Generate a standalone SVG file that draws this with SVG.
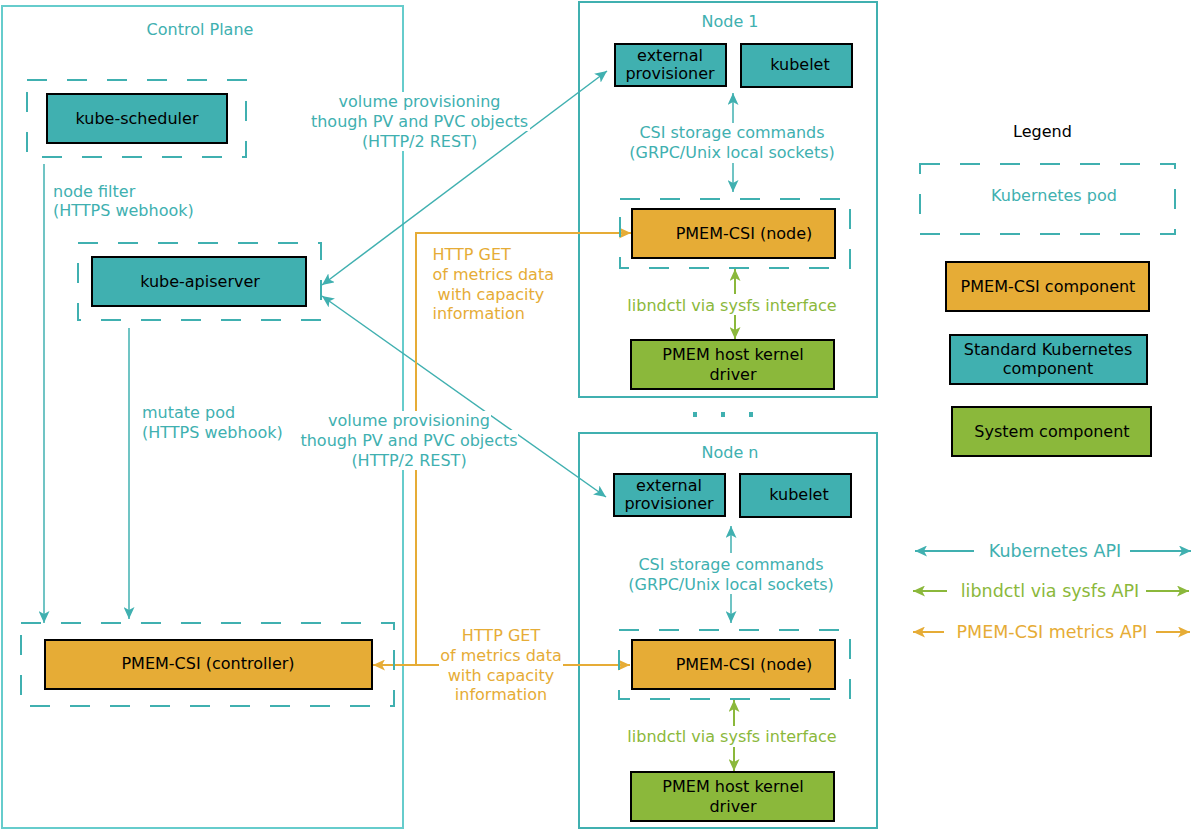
<svg xmlns="http://www.w3.org/2000/svg" width="1193" height="831" viewBox="0 0 1193 831">
<defs>
<style>
text{font-family:"DejaVu Sans","Liberation Sans",sans-serif;font-size:16px;white-space:pre}
.c{text-anchor:middle}
.tl{fill:#40B0B0}
.ol{fill:#E6AC36}
.gl{fill:#8BB83B}
.bk{fill:#000}
.kbox{fill:#40B0B0;stroke:#000;stroke-width:2}
.pbox{fill:#E6AC36;stroke:#000;stroke-width:2}
.sbox{fill:#8BB83B;stroke:#000;stroke-width:2}
.pod{fill:none;stroke:#40B0B0;stroke-width:2;stroke-dasharray:20 20}
.cp{fill:none;stroke:#66CCCC;stroke-width:2}
.nd{fill:none;stroke:#40B0B0;stroke-width:2}
.tc{fill:none;stroke:#40B0B0;stroke-width:1.5}
.oc{fill:none;stroke:#E6AC36;stroke-width:2}
.gc{fill:none;stroke:#8BB83B;stroke-width:2}
.bg{fill:#fff}
.lg{font-size:17.5px}
</style>
<marker id="at" markerUnits="userSpaceOnUse" markerWidth="13" markerHeight="11" viewBox="0 0 13 11" refX="12" refY="5.5" orient="auto-start-reverse"><path d="M0,0 L12,5.5 L0,11 L3,5.5 Z" fill="#40B0B0"/></marker>
<marker id="ao" markerUnits="userSpaceOnUse" markerWidth="13" markerHeight="11" viewBox="0 0 13 11" refX="12" refY="5.5" orient="auto-start-reverse"><path d="M0,0 L12,5.5 L0,11 L3,5.5 Z" fill="#E6AC36"/></marker>
<marker id="ag" markerUnits="userSpaceOnUse" markerWidth="13" markerHeight="11" viewBox="0 0 13 11" refX="12" refY="5.5" orient="auto-start-reverse"><path d="M0,0 L12,5.5 L0,11 L3,5.5 Z" fill="#8BB83B"/></marker>
</defs>
<rect width="1193" height="831" fill="#fff"/>

<g id="control-plane">
<rect class="cp" x="2" y="6" width="401" height="822"/>
<text class="c tl" x="200" y="35">Control Plane</text>
</g>
<g id="node1-frame">
<rect class="nd" x="579" y="2" width="298" height="395"/>
<text class="c tl" x="730" y="27">Node 1</text>
</g>
<g id="noden-frame">
<rect class="nd" x="579" y="433" width="298" height="395"/>
<text class="c tl" x="730" y="458">Node n</text>
</g>
<g id="ellipsis" fill="#40B0B0">
<rect x="693" y="412" width="4" height="5"/>
<rect x="721" y="412" width="4" height="5"/>
<rect x="749" y="412" width="4" height="5"/>
</g>

<g id="connectors">
<path class="tc" d="M44,164 V623" marker-end="url(#at)"/>
<path class="tc" d="M129,328 V619" marker-end="url(#at)"/>
<path class="tc" d="M322,285 L607,71" marker-start="url(#at)" marker-end="url(#at)"/>
<path class="tc" d="M322,296 L606,497" marker-start="url(#at)" marker-end="url(#at)"/>
<path class="tc" d="M733,93 V192" marker-start="url(#at)" marker-end="url(#at)"/>
<path class="tc" d="M731,526 V623" marker-start="url(#at)" marker-end="url(#at)"/>
<path class="gc" d="M735,269 V339" marker-start="url(#ag)" marker-end="url(#ag)"/>
<path class="gc" d="M734,700 V771" marker-start="url(#ag)" marker-end="url(#ag)"/>
<path class="oc" d="M373,665 H630" marker-start="url(#ao)" marker-end="url(#ao)"/>
<path class="oc" d="M416,665 V233 H631" marker-end="url(#ao)"/>
</g>

<g id="connector-labels">
<text class="tl" x="53" y="197">node filter</text>
<text class="tl" x="53" y="216">(HTTPS webhook)</text>
<text class="tl" x="142" y="418">mutate pod</text>
<text class="tl" x="142" y="438">(HTTPS webhook)</text>
<rect class="bg" x="337" y="92" width="166" height="20"/>
<rect class="bg" x="310" y="111" width="220" height="20"/>
<rect class="bg" x="361" y="131" width="118" height="20"/>
<text class="c tl" x="419.5" y="107">volume provisioning</text>
<text class="c tl" x="419.5" y="127">though PV and PVC objects</text>
<text class="c tl" x="419.5" y="147">(HTTP/2 REST)</text>
<rect class="bg" x="327" y="411" width="164" height="20"/>
<rect class="bg" x="300" y="430" width="218" height="20"/>
<rect class="bg" x="350" y="450" width="118" height="20"/>
<text class="c tl" x="409" y="426">volume provisioning</text>
<text class="c tl" x="409" y="446">though PV and PVC objects</text>
<text class="c tl" x="409" y="466">(HTTP/2 REST)</text>
<text class="ol" x="432.5" y="260">HTTP GET</text>
<text class="ol" x="432.5" y="280">of metrics data</text>
<text class="ol" x="432.5" y="300"> with capacity</text>
<text class="ol" x="432.5" y="319">information</text>
<rect class="bg" x="439" y="625" width="124" height="80"/>
<text class="c ol" x="501" y="641">HTTP GET</text>
<text class="c ol" x="501" y="661">of metrics data</text>
<text class="c ol" x="501" y="681">with capacity</text>
<text class="c ol" x="501" y="700">information</text>
<rect class="bg" x="628" y="123" width="209" height="40"/>
<text class="c tl" x="732" y="138">CSI storage commands</text>
<text class="c tl" x="732" y="158">(GRPC/Unix local sockets)</text>
<rect class="bg" x="627" y="553" width="209" height="41"/>
<text class="c tl" x="731" y="570">CSI storage commands</text>
<text class="c tl" x="731" y="590">(GRPC/Unix local sockets)</text>
<rect class="bg" x="628" y="294" width="209" height="21"/>
<text class="c gl" x="732" y="311">libndctl via sysfs interface</text>
<rect class="bg" x="628" y="726" width="209" height="21"/>
<text class="c gl" x="732" y="742">libndctl via sysfs interface</text>
</g>

<g id="kube-scheduler">
<rect class="pod" x="27" y="80" width="219" height="77"/>
<rect class="kbox" x="47" y="94" width="180" height="49"/>
<text class="c bk" x="137" y="124">kube-scheduler</text>
</g>
<g id="kube-apiserver">
<rect class="pod" x="78" y="243" width="243" height="77"/>
<rect class="kbox" x="92" y="257" width="214" height="49"/>
<text class="c bk" x="200" y="287">kube-apiserver</text>
</g>
<g id="pmem-csi-controller">
<rect class="pod" x="21" y="623" width="373" height="83"/>
<rect class="pbox" x="45" y="640" width="327" height="49"/>
<text class="c bk" x="208" y="669">PMEM-CSI (controller)</text>
</g>

<g id="node1-external-provisioner">
<rect class="kbox" x="615" y="44" width="111" height="42"/>
<text class="c bk" x="670" y="61">external</text>
<text class="c bk" x="670" y="79">provisioner</text>
</g>
<g id="node1-kubelet">
<rect class="kbox" x="741" y="44" width="111" height="43"/>
<text class="c bk" x="800" y="70">kubelet</text>
</g>
<g id="node1-pmem-csi">
<rect class="pod" x="620" y="199" width="230" height="69"/>
<rect class="pbox" x="632" y="209" width="203" height="49"/>
<text class="c bk" x="744" y="239">PMEM-CSI (node)</text>
</g>
<g id="node1-driver">
<rect class="sbox" x="631" y="340" width="203" height="49"/>
<text class="c bk" x="733" y="360">PMEM host kernel</text>
<text class="c bk" x="733" y="380">driver</text>
</g>

<g id="noden-external-provisioner">
<rect class="kbox" x="614" y="474" width="111" height="42"/>
<text class="c bk" x="669" y="491">external</text>
<text class="c bk" x="669" y="509">provisioner</text>
</g>
<g id="noden-kubelet">
<rect class="kbox" x="740" y="474" width="111" height="43"/>
<text class="c bk" x="799" y="500">kubelet</text>
</g>
<g id="noden-pmem-csi">
<rect class="pod" x="619" y="630" width="231" height="69"/>
<rect class="pbox" x="632" y="640" width="203" height="49"/>
<text class="c bk" x="744" y="670">PMEM-CSI (node)</text>
</g>
<g id="noden-driver">
<rect class="sbox" x="631" y="772" width="203" height="49"/>
<text class="c bk" x="733" y="792">PMEM host kernel</text>
<text class="c bk" x="733" y="812">driver</text>
</g>

<g id="legend">
<text class="c bk" x="1042.5" y="137">Legend</text>
<rect class="pod" x="920" y="164" width="255" height="70"/>
<text class="c tl" x="1054" y="201">Kubernetes pod</text>
<rect class="pbox" x="946" y="262" width="203" height="49"/>
<text class="c bk" x="1048" y="292">PMEM-CSI component</text>
<rect class="kbox" x="950" y="335" width="197" height="49"/>
<text class="c bk" x="1048" y="355">Standard Kubernetes</text>
<text class="c bk" x="1048" y="374">component</text>
<rect class="sbox" x="952" y="407" width="199" height="49"/>
<text class="c bk" x="1052" y="437">System component</text>
<path class="tc" style="stroke-width:2" d="M915,551 H1191" marker-start="url(#at)" marker-end="url(#at)"/>
<rect class="bg" x="974" y="538" width="156" height="26"/>
<text class="c tl lg" x="1055" y="557">Kubernetes API</text>
<path class="gc" d="M913,591 H1189" marker-start="url(#ag)" marker-end="url(#ag)"/>
<rect class="bg" x="947" y="578" width="199" height="26"/>
<text class="c gl lg" x="1050" y="597">libndctl via sysfs API</text>
<path class="oc" d="M913,632 H1190" marker-start="url(#ao)" marker-end="url(#ao)"/>
<rect class="bg" x="944" y="619" width="212" height="26"/>
<text class="c ol lg" x="1052" y="638">PMEM-CSI metrics API</text>
</g>
</svg>
